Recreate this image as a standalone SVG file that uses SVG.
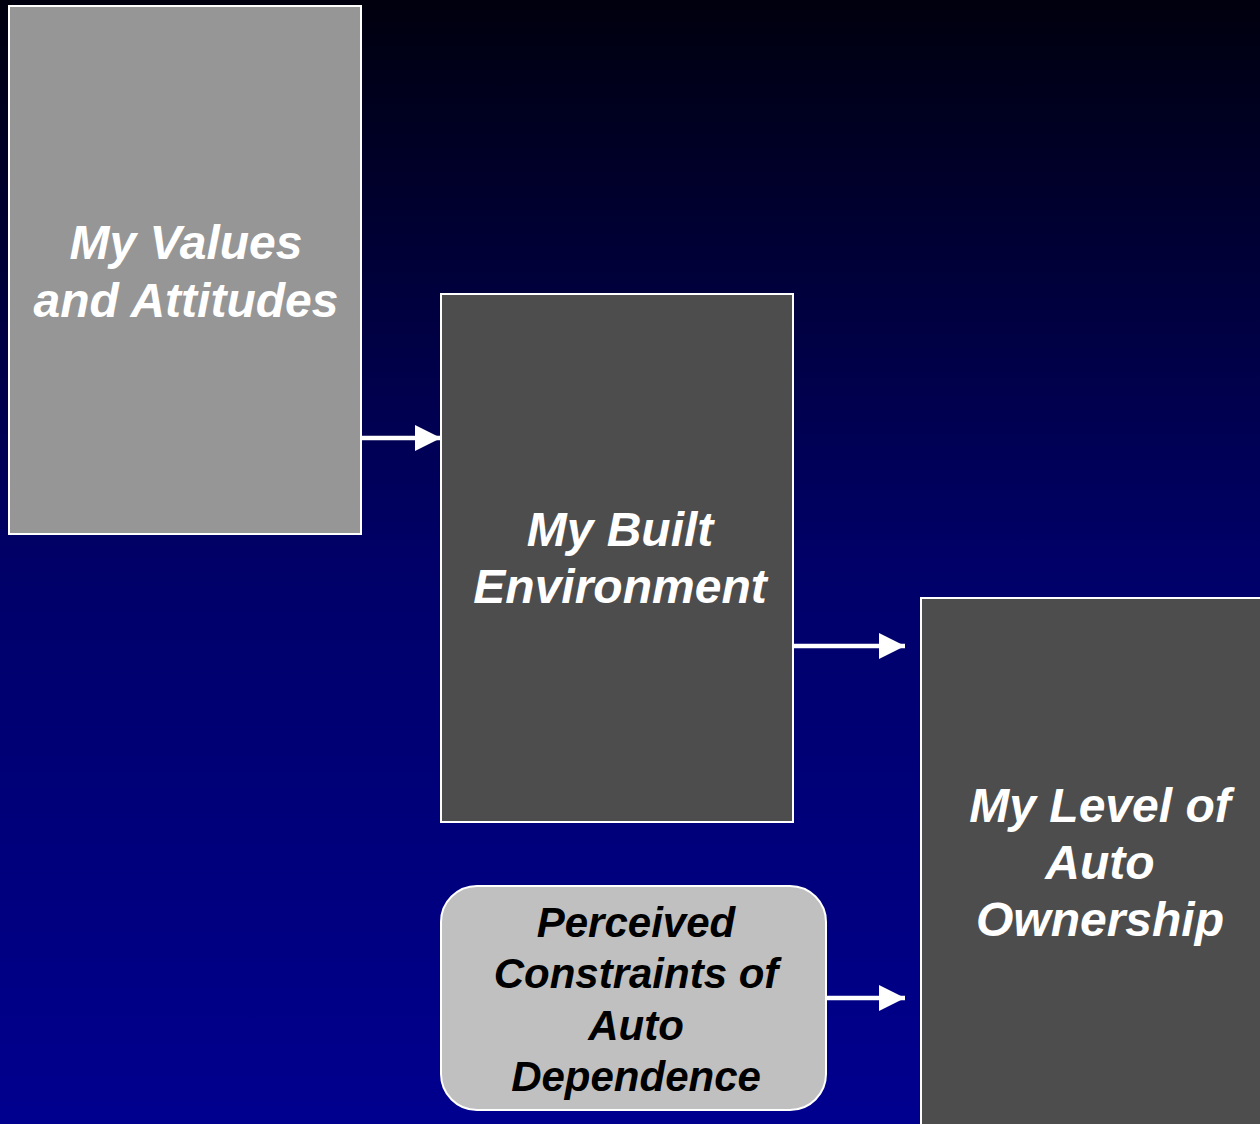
<svg xmlns="http://www.w3.org/2000/svg" width="1260" height="1124" viewBox="0 0 1260 1124">
<defs>
<linearGradient id="bg" x1="0" y1="0" x2="0" y2="1">
<stop offset="0" stop-color="#00000e"/>
<stop offset="0.5" stop-color="#000068"/>
<stop offset="1" stop-color="#00008f"/>
</linearGradient>
<marker id="ah" markerUnits="userSpaceOnUse" markerWidth="28" markerHeight="28" refX="26" refY="13" orient="auto">
<path d="M0,0 L26,13 L0,26 Z" fill="#ffffff"/>
</marker>
<style>
.box{stroke:#ffffff;stroke-width:2}
.t{font-family:"Liberation Sans",Arial,sans-serif;font-weight:bold;font-style:italic;text-anchor:middle}
.big{font-size:48px;fill:#ffffff}
.small{font-size:42px;fill:#000000}
.conn{stroke:#ffffff;stroke-width:4.5;fill:none}
</style>
</defs>
<rect width="1260" height="1124" fill="url(#bg)"/>
<g id="values">
<rect class="box" x="9" y="6" width="352" height="528" fill="#969696"/>
<text class="t big" x="186" y="259">My Values</text>
<text class="t big" x="186" y="317">and Attitudes</text>
</g>
<g id="built">
<rect class="box" x="441" y="294" width="352" height="528" fill="#4d4d4d"/>
<text class="t big" x="620" y="546">My Built</text>
<text class="t big" x="620" y="603">Environment</text>
</g>
<g id="ownership">
<rect class="box" x="921" y="598" width="360" height="560" fill="#4d4d4d"/>
<text class="t big" x="1100" y="822">My Level of</text>
<text class="t big" x="1100" y="879">Auto</text>
<text class="t big" x="1100" y="936">Ownership</text>
</g>
<g id="constraints">
<rect class="box" x="441" y="886" width="385" height="224" rx="36" ry="36" fill="#c0c0c0"/>
<text class="t small" x="636" y="937">Perceived</text>
<text class="t small" x="636" y="988">Constraints of</text>
<text class="t small" x="636" y="1040">Auto</text>
<text class="t small" x="636" y="1091">Dependence</text>
</g>
<g id="connectors">
<line class="conn" x1="362" y1="438" x2="441" y2="438" marker-end="url(#ah)"/>
<line class="conn" x1="794" y1="646" x2="905" y2="646" marker-end="url(#ah)"/>
<line class="conn" x1="827" y1="998" x2="905" y2="998" marker-end="url(#ah)"/>
</g>
</svg>
